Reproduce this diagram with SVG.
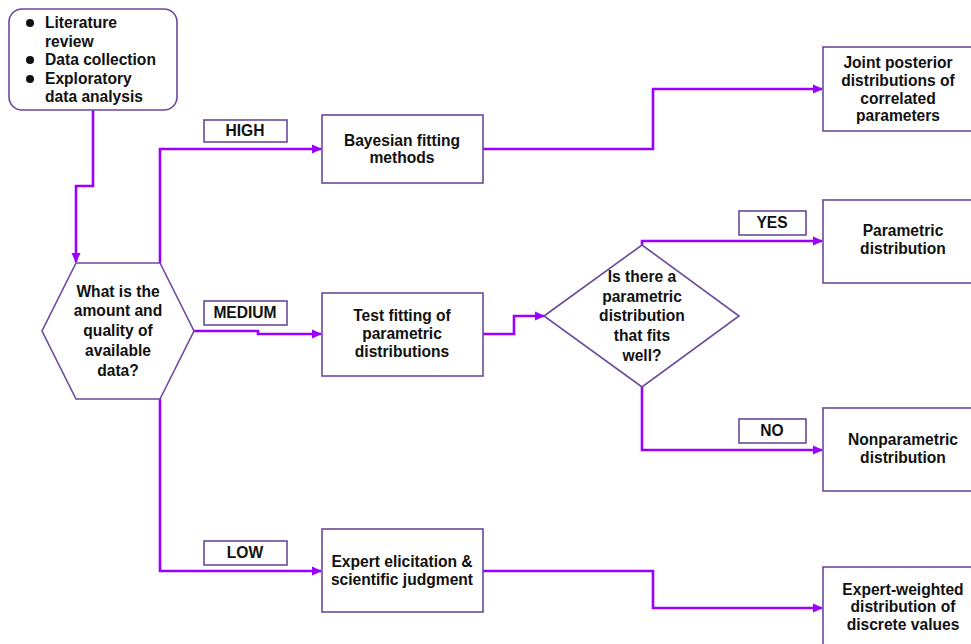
<svg xmlns="http://www.w3.org/2000/svg" width="971" height="644" viewBox="0 0 971 644">
<style>
.box{fill:#fff;stroke:#6a4a9c;stroke-width:1.6}
.lbl{fill:#fff;stroke:#6a4a9c;stroke-width:1.6}
.t{font-family:"Liberation Sans",Arial,sans-serif;font-weight:bold;font-size:15.6px;fill:#111;text-anchor:middle}
.tl{font-family:"Liberation Sans",Arial,sans-serif;font-weight:bold;font-size:15.6px;fill:#111}
.c{fill:none;stroke:#9b00ff;stroke-width:2.6;stroke-linejoin:miter}
</style>
<defs>
<marker id="ah" markerUnits="userSpaceOnUse" markerWidth="10" markerHeight="10" viewBox="0 0 10 10" refX="9" refY="5" orient="auto">
<path d="M0,0.5 L10,5 L0,9.5 Z" fill="#9b00ff"/>
</marker>
</defs>
<rect width="971" height="644" fill="#fff"/>

<g id="connectors">
<path class="c" d="M93,110 V186 H76 V262" marker-end="url(#ah)"/>
<path class="c" d="M160,263 V149 H321" marker-end="url(#ah)"/>
<path class="c" d="M194,331 H258 V334 H321" marker-end="url(#ah)"/>
<path class="c" d="M160,399 V571 H321" marker-end="url(#ah)"/>
<path class="c" d="M483,149 H653 V89 H822" marker-end="url(#ah)"/>
<path class="c" d="M483,334 H514 V316 H544" marker-end="url(#ah)"/>
<path class="c" d="M642,245 V241 H822" marker-end="url(#ah)"/>
<path class="c" d="M642,387 V450 H822" marker-end="url(#ah)"/>
<path class="c" d="M483,571 H653 V608 H822" marker-end="url(#ah)"/>
</g>

<g id="start">
<rect class="box" x="9" y="9" width="168" height="101" rx="13"/>
<circle cx="30" cy="23" r="4" fill="#111"/>
<circle cx="30" cy="60" r="4" fill="#111"/>
<circle cx="30" cy="79" r="4" fill="#111"/>
<text class="tl" x="45" y="28">Literature</text>
<text class="tl" x="45" y="47">review</text>
<text class="tl" x="45" y="65">Data collection</text>
<text class="tl" x="45" y="84">Exploratory</text>
<text class="tl" x="45" y="102">data analysis</text>
</g>

<g id="question">
<polygon class="box" points="76,263 160,263 194,331 160,399 76,399 42,331"/>
<text class="t" x="118" y="297">What is the</text>
<text class="t" x="118" y="316">amount and</text>
<text class="t" x="118" y="336">quality of</text>
<text class="t" x="118" y="356">available</text>
<text class="t" x="118" y="376">data?</text>
</g>

<g id="label-high">
<rect class="lbl" x="204" y="120" width="83" height="22"/>
<text class="t" x="245" y="136">HIGH</text>
</g>
<g id="label-medium">
<rect class="lbl" x="204" y="301" width="83" height="24"/>
<text class="t" x="245" y="318">MEDIUM</text>
</g>
<g id="label-low">
<rect class="lbl" x="204" y="541" width="83" height="24"/>
<text class="t" x="245" y="558">LOW</text>
</g>

<g id="bayesian">
<rect class="box" x="322" y="115" width="161" height="68"/>
<text class="t" x="402" y="146">Bayesian fitting</text>
<text class="t" x="402" y="163">methods</text>
</g>

<g id="testfit">
<rect class="box" x="322" y="293" width="161" height="83"/>
<text class="t" x="402" y="321">Test fitting of</text>
<text class="t" x="402" y="339">parametric</text>
<text class="t" x="402" y="357">distributions</text>
</g>

<g id="expert">
<rect class="box" x="322" y="529" width="161" height="83"/>
<text class="t" x="402" y="567">Expert elicitation &amp;</text>
<text class="t" x="402" y="585">scientific judgment</text>
</g>

<g id="diamond">
<polygon class="box" points="544,316 642,245 739,316 642,387"/>
<text class="t" x="642" y="282">Is there a</text>
<text class="t" x="642" y="302">parametric</text>
<text class="t" x="642" y="321">distribution</text>
<text class="t" x="642" y="341">that fits</text>
<text class="t" x="642" y="361">well?</text>
</g>

<g id="label-yes">
<rect class="lbl" x="739" y="211" width="67" height="24"/>
<text class="t" x="772" y="228">YES</text>
</g>
<g id="label-no">
<rect class="lbl" x="739" y="419" width="67" height="24"/>
<text class="t" x="772" y="436">NO</text>
</g>

<g id="joint">
<rect class="box" x="823" y="47" width="160" height="84"/>
<text class="t" x="898" y="68">Joint posterior</text>
<text class="t" x="898" y="86">distributions of</text>
<text class="t" x="898" y="104">correlated</text>
<text class="t" x="898" y="121">parameters</text>
</g>

<g id="parametric">
<rect class="box" x="823" y="200" width="160" height="83"/>
<text class="t" x="903" y="236">Parametric</text>
<text class="t" x="903" y="254">distribution</text>
</g>

<g id="nonparametric">
<rect class="box" x="823" y="408" width="160" height="83"/>
<text class="t" x="903" y="445">Nonparametric</text>
<text class="t" x="903" y="463">distribution</text>
</g>

<g id="expertweighted">
<rect class="box" x="823" y="567" width="160" height="90"/>
<text class="t" x="903" y="595">Expert-weighted</text>
<text class="t" x="903" y="612">distribution of</text>
<text class="t" x="903" y="630">discrete values</text>
</g>
</svg>
